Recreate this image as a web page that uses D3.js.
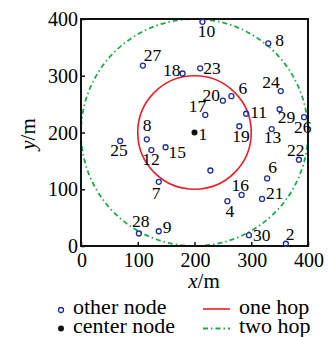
<!DOCTYPE html>
<html><head><meta charset="utf-8">
<script src="https://cdn.jsdelivr.net/npm/d3@7"></script>
</head>
<body style="margin:0">
<svg id="s" width="328" height="337"></svg>
<script>
// ---- data ----
const nodeLabels = ["10","8","27","18","23","20","6","17","11","24","29","26","19","13","22","6","16","21","4","","30","2","15","12","8","25","7","28","9"];
const nodeX = [214,330,109,179,210,250,265,219,291,352,350,393,279,336,384,328,283,319,258,228,296,361,149,124,116,69,137,102,137];
const nodeY = [395,357,318,304,313,256,264,231,233,273,241,227,211,206,152,119,90,83,79,133,19,4,174,169,188,185,113,22,26];
const centerLabel = ["1"];
const centerX = [200];
const centerY = [200];
const hopRadii = [100, 200];
const hopNames = ["one hop", "two hop"];
const xTicks = [0,100,200,300,400];
const yTicks = [0,100,200,300,400];
const legendNodes = ["other node", "center node"];

// label placement offsets (px) relative to each node, layout only
const labelOffsets = [[4,15,"middle"],[7,3,"start"],[1,-5,"start"],[-2,3,"end"],[3,6,"start"],[-3,0,"end"],[7,-2,"start"],[1,-3,"end"],[4,4,"start"],[-1,-3,"end"],[-2,14,"start"],[-10,16,"start"],[-7,16,"start"],[-8,14,"start"],[-12,-4,"start"],[1,-5,"start"],[-10,-4,"start"],[4,0,"start"],[-2,16,"start"],[0,0,"start"],[4,6,"start"],[0,-4,"start"],[3,11,"start"],[-9,15,"start"],[-4,-8,"start"],[-10,15,"start"],[-7,17,"start"],[-7,-7,"start"],[4,2,"start"]];

// ---- layout ----
const L = 81, R = 308, T = 19, B = 246;
const F = "'Liberation Serif'";
const blue = "#1f2d9b", red = "#e8202a", green = "#1faa48";

const svg = d3.select("#s");
const x = d3.scaleLinear().domain([0,400]).range([L,R]);
const y = d3.scaleLinear().domain([0,400]).range([B,T]);

// hop circles (the 200 m circle fits exactly inside the 0-400 frame)
const hopStyle = [{c:red, dash:null, w:1.6},{c:green, dash:"5,3,1.5,3", w:1.8}];
svg.append("g")
  .selectAll("circle").data(hopRadii).join("circle")
  .attr("cx", x(centerX[0])).attr("cy", y(centerY[0]))
  .attr("r", d => x(d) - x(0))
  .attr("fill","none")
  .attr("stroke", (d,i) => hopStyle[i].c)
  .attr("stroke-width", (d,i) => hopStyle[i].w)
  .attr("stroke-dasharray", (d,i) => hopStyle[i].dash);

// tick marks via d3 axes (labels drawn as plain texts below)
const xAxis = d3.axisBottom(x).tickValues(xTicks).tickSize(-4).tickFormat("").tickSizeOuter(0);
const yAxis = d3.axisLeft(y).tickValues(yTicks).tickSize(-4).tickFormat("").tickSizeOuter(0);
const gx = svg.append("g").attr("transform",`translate(0,${B})`).call(xAxis);
const gy = svg.append("g").attr("transform",`translate(${L},0)`).call(yAxis);
[gx,gy].forEach(g => {
  g.selectAll("path.domain").remove();
  g.selectAll("text").remove();
  g.selectAll("line").attr("stroke","#111").attr("stroke-width",1.5);
});

// frame
svg.append("rect").attr("x",L).attr("y",T).attr("width",R-L).attr("height",B-T)
  .attr("fill","none").attr("stroke","#111").attr("stroke-width",2);

function txt(px, py, anchor, size, s) {
  return svg.append("text")
    .attr("x", px).attr("y", py)
    .attr("text-anchor", anchor)
    .style("font-family", F).style("font-size", size + "px")
    .text(s);
}

// tick labels
xTicks.forEach(v => txt(x(v) + 1, B + 21, "middle", 20, String(v)));
yTicks.forEach(v => txt(L - 3, y(v) + 7, "end", 20, String(v)));

// axis titles
const xt = svg.append("text").attr("x", 204).attr("y", 288).attr("text-anchor","middle")
  .style("font-family", F).style("font-size","21px");
xt.append("tspan").style("font-style","italic").text("x");
xt.append("tspan").text("/m");
const yt = svg.append("text").attr("transform","translate(35,134) rotate(-90)")
  .attr("text-anchor","middle").style("font-family", F).style("font-size","21px");
yt.append("tspan").style("font-style","italic").text("y");
yt.append("tspan").text("/m");

// other nodes
const nodes = nodeLabels.map((lab,i) => ({lab, xv:nodeX[i], yv:nodeY[i], off:labelOffsets[i]}));
svg.append("g").selectAll("circle").data(nodes).join("circle")
  .attr("cx", d => x(d.xv)).attr("cy", d => y(d.yv)).attr("r", 2.5)
  .attr("fill","none").attr("stroke", blue).attr("stroke-width", 1.3);
nodes.forEach(d => {
  if (!d.lab) return;
  txt(x(d.xv) + d.off[0], y(d.yv) + d.off[1], d.off[2], 17.5, d.lab);
});

// center node
svg.append("g").selectAll("circle").data(centerX).join("circle")
  .attr("cx", d => x(d)).attr("cy", (d,i) => y(centerY[i])).attr("r", 3)
  .attr("fill", "#111");
centerLabel.forEach((lab,i) => txt(x(centerX[i]) + 4, y(centerY[i]) + 7, "start", 17.5, lab));

// legend
svg.append("circle").attr("cx",61).attr("cy",310).attr("r",2.5)
  .attr("fill","none").attr("stroke",blue).attr("stroke-width",1.3);
txt(73, 314, "start", 22, legendNodes[0]);
svg.append("circle").attr("cx",61).attr("cy",328.5).attr("r",3).attr("fill","#111");
txt(73, 333, "start", 22, legendNodes[1]);

hopNames.forEach((name,i) => {
  const ly = i === 0 ? 309 : 328.5;
  svg.append("line").attr("x1",203).attr("x2",230).attr("y1",ly).attr("y2",ly)
    .attr("stroke",hopStyle[i].c).attr("stroke-width",hopStyle[i].w)
    .attr("stroke-dasharray",hopStyle[i].dash);
  txt(239, i === 0 ? 314 : 333, "start", 22, name);
});
</script>
</body></html>
